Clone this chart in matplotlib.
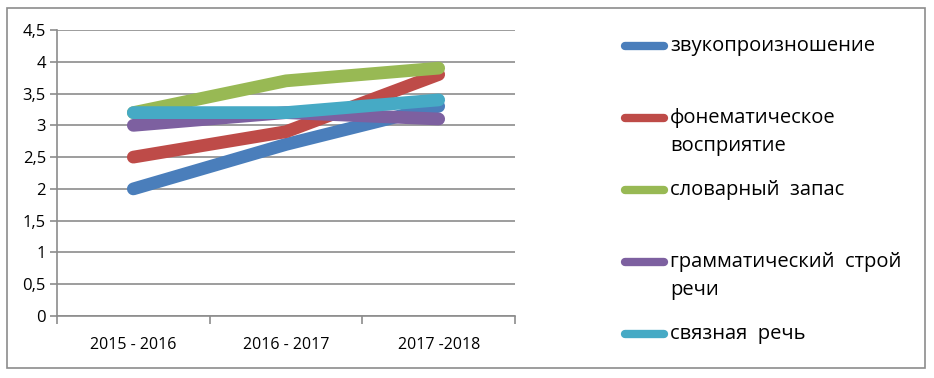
import matplotlib
matplotlib.use("Agg")
import matplotlib.pyplot as plt
from matplotlib.lines import Line2D
from matplotlib.patches import Rectangle
from matplotlib.ticker import FuncFormatter, MultipleLocator

categories = ["2015 - 2016", "2016 - 2017", "2017 -2018"]
series_names = ["звукопроизношение", "фонематическое\nвосприятие", "словарный  запас",
                "грамматический  строй\nречи", "связная  речь"]
zvuk = [2.0, 2.7, 3.3]
fonem = [2.5, 2.9, 3.8]
slovar = [3.2, 3.7, 3.9]
gramm = [3.0, 3.2, 3.1]
svyaz = [3.2, 3.2, 3.4]
values = [zvuk, fonem, slovar, gramm, svyaz]
colors = ["#4A7EBB", "#BE4B48", "#98B954", "#7D60A0", "#46AAC5"]

plt.rcParams['font.family'] = ['Open Sans', 'DejaVu Sans']

W, H = 934, 378
fig = plt.figure(figsize=(W / 100, H / 100), dpi=100)

def fx(px):
    return px / W

def fy(py):
    return 1 - py / H

# outer border
fig.add_artist(Rectangle((fx(7), fy(368)), fx(925) - fx(7), fy(8) - fy(368),
                         transform=fig.transFigure, fill=False, edgecolor="#8c8c8c", lw=1.2))

ax = fig.add_axes([fx(57), fy(316), fx(515) - fx(57), fy(30) - fy(316)])
x = list(range(len(categories)))
for vals, c, name in zip(values, colors, series_names):
    ax.plot(x, vals, color=c, lw=9.2, solid_capstyle='round', solid_joinstyle='round', label=name)

ax.set_xlim(-0.5, len(categories) - 0.5)
ax.set_ylim(0, 4.5)
ax.yaxis.set_major_locator(MultipleLocator(0.5))
ax.yaxis.set_major_formatter(FuncFormatter(lambda v, p: ("%g" % v).replace(".", ",")))
ax.set_xticks(x)
ax.set_xticklabels(categories)
ax.set_xticks([-0.5, 0.5, 1.5, 2.5], minor=True)
ax.tick_params(axis='x', which='major', length=0, pad=15, labelsize=11.5, colors="black")
ax.tick_params(axis='x', which='minor', length=6, color="#8c8c8c", width=1.2)
ax.tick_params(axis='y', length=5, color="#8c8c8c", width=1.2, labelsize=12, pad=3)
ax.grid(axis='y', color="#8c8c8c", lw=1.2)
ax.set_axisbelow(True)
for s in ['top', 'right']:
    ax.spines[s].set_visible(False)
for s in ['left', 'bottom']:
    ax.spines[s].set_color("#8c8c8c")
    ax.spines[s].set_linewidth(1.2)

# legend
for i, (name, c) in enumerate(zip(series_names, colors)):
    y = 46 + 72 * i
    fig.add_artist(Line2D([fx(625), fx(664)], [fy(y), fy(y)], transform=fig.transFigure,
                          color=c, lw=6, solid_capstyle='round'))
    for j, line in enumerate(name.split("\n")):
        fig.text(fx(670), fy(y + 28 * j), line, fontsize=14.5, va='center', ha='left')

fig.savefig("out.png", dpi=100)
